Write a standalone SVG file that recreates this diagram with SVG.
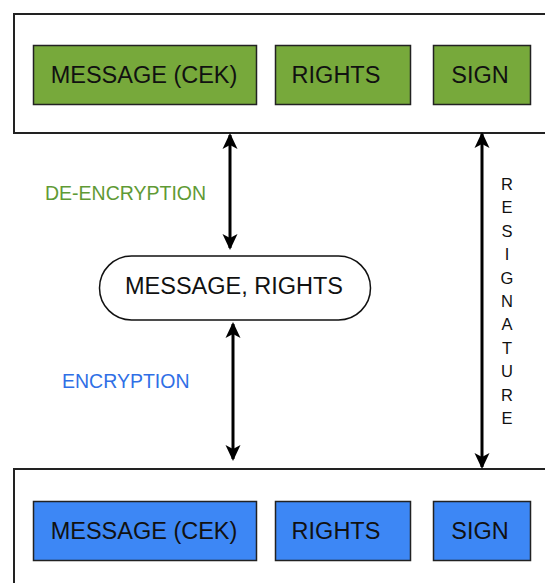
<svg xmlns="http://www.w3.org/2000/svg" width="545" height="583" viewBox="0 0 545 583">
  <style>
    .frame { fill: #ffffff; stroke: #222222; stroke-width: 2; }
    .green { fill: #77a93b; stroke: #222222; stroke-width: 1.5; }
    .blue { fill: #3d87f5; stroke: #222222; stroke-width: 1.5; }
    .pill { fill: #ffffff; stroke: #111111; stroke-width: 1.5; }
    .lbl { font-family: "Liberation Sans", Arial, sans-serif; font-size: 23.5px; fill: #111111; text-anchor: middle; dominant-baseline: central; }
    .side { font-family: "Liberation Sans", Arial, sans-serif; font-size: 19.5px; dominant-baseline: central; }
    .vert { font-family: "Liberation Sans", Arial, sans-serif; font-size: 16.5px; fill: #111111; text-anchor: middle; dominant-baseline: central; }
    .link { fill: none; stroke: #000000; stroke-width: 3; marker-start: url(#head); marker-end: url(#head); }
  </style>
  <defs>
    <marker id="head" viewBox="0 0 16 16" refX="14" refY="8" markerWidth="16" markerHeight="16" markerUnits="userSpaceOnUse" orient="auto-start-reverse">
      <path d="M0,0.5 L16,8 L0,15.5 L4,8 Z" fill="#000000"/>
    </marker>
  </defs>

  <!-- upper container: encrypted package -->
  <g id="upper-package">
    <rect class="frame" x="14" y="14" width="545" height="119"/>
    <g id="upper-message">
      <rect class="green" x="33.5" y="45.5" width="223" height="59"/>
      <text class="lbl" x="144" y="75">MESSAGE (CEK)</text>
    </g>
    <g id="upper-rights">
      <rect class="green" x="275.5" y="45.5" width="135" height="59"/>
      <text class="lbl" x="336" y="75">RIGHTS</text>
    </g>
    <g id="upper-sign">
      <rect class="green" x="433.5" y="45.5" width="97" height="59"/>
      <text class="lbl" x="480" y="75">SIGN</text>
    </g>
  </g>

  <!-- plain content in the middle -->
  <g id="plain-content">
    <rect class="pill" x="99.5" y="256" width="271" height="64" rx="32" ry="32"/>
    <text class="lbl" x="234" y="286">MESSAGE, RIGHTS</text>
  </g>

  <!-- lower container: re-encrypted package -->
  <g id="lower-package">
    <rect class="frame" x="14" y="469" width="545" height="130"/>
    <g id="lower-message">
      <rect class="blue" x="33.5" y="501.5" width="223" height="59"/>
      <text class="lbl" x="144" y="531">MESSAGE (CEK)</text>
    </g>
    <g id="lower-rights">
      <rect class="blue" x="275.5" y="501.5" width="135" height="59"/>
      <text class="lbl" x="336" y="531">RIGHTS</text>
    </g>
    <g id="lower-sign">
      <rect class="blue" x="433.5" y="501.5" width="97" height="59"/>
      <text class="lbl" x="480" y="531">SIGN</text>
    </g>
  </g>

  <!-- connectors -->
  <g id="connectors">
    <line class="link" x1="230" y1="135" x2="230" y2="248"/>
    <line class="link" x1="233" y1="324" x2="233" y2="459"/>
    <line class="link" x1="482" y1="134" x2="482" y2="467"/>
  </g>

  <!-- connector labels -->
  <g id="labels">
    <text class="side" x="45" y="193" fill="#5f9a35">DE-ENCRYPTION</text>
    <text class="side" x="62" y="381" fill="#2f6fe6">ENCRYPTION</text>
    <g id="resignature-label">
      <text class="vert" x="507" y="184">R</text>
      <text class="vert" x="507" y="207.4">E</text>
      <text class="vert" x="507" y="230.8">S</text>
      <text class="vert" x="507" y="254.2">I</text>
      <text class="vert" x="507" y="277.6">G</text>
      <text class="vert" x="507" y="301">N</text>
      <text class="vert" x="507" y="324.4">A</text>
      <text class="vert" x="507" y="347.8">T</text>
      <text class="vert" x="507" y="371.2">U</text>
      <text class="vert" x="507" y="394.6">R</text>
      <text class="vert" x="507" y="418">E</text>
    </g>
  </g>
</svg>
